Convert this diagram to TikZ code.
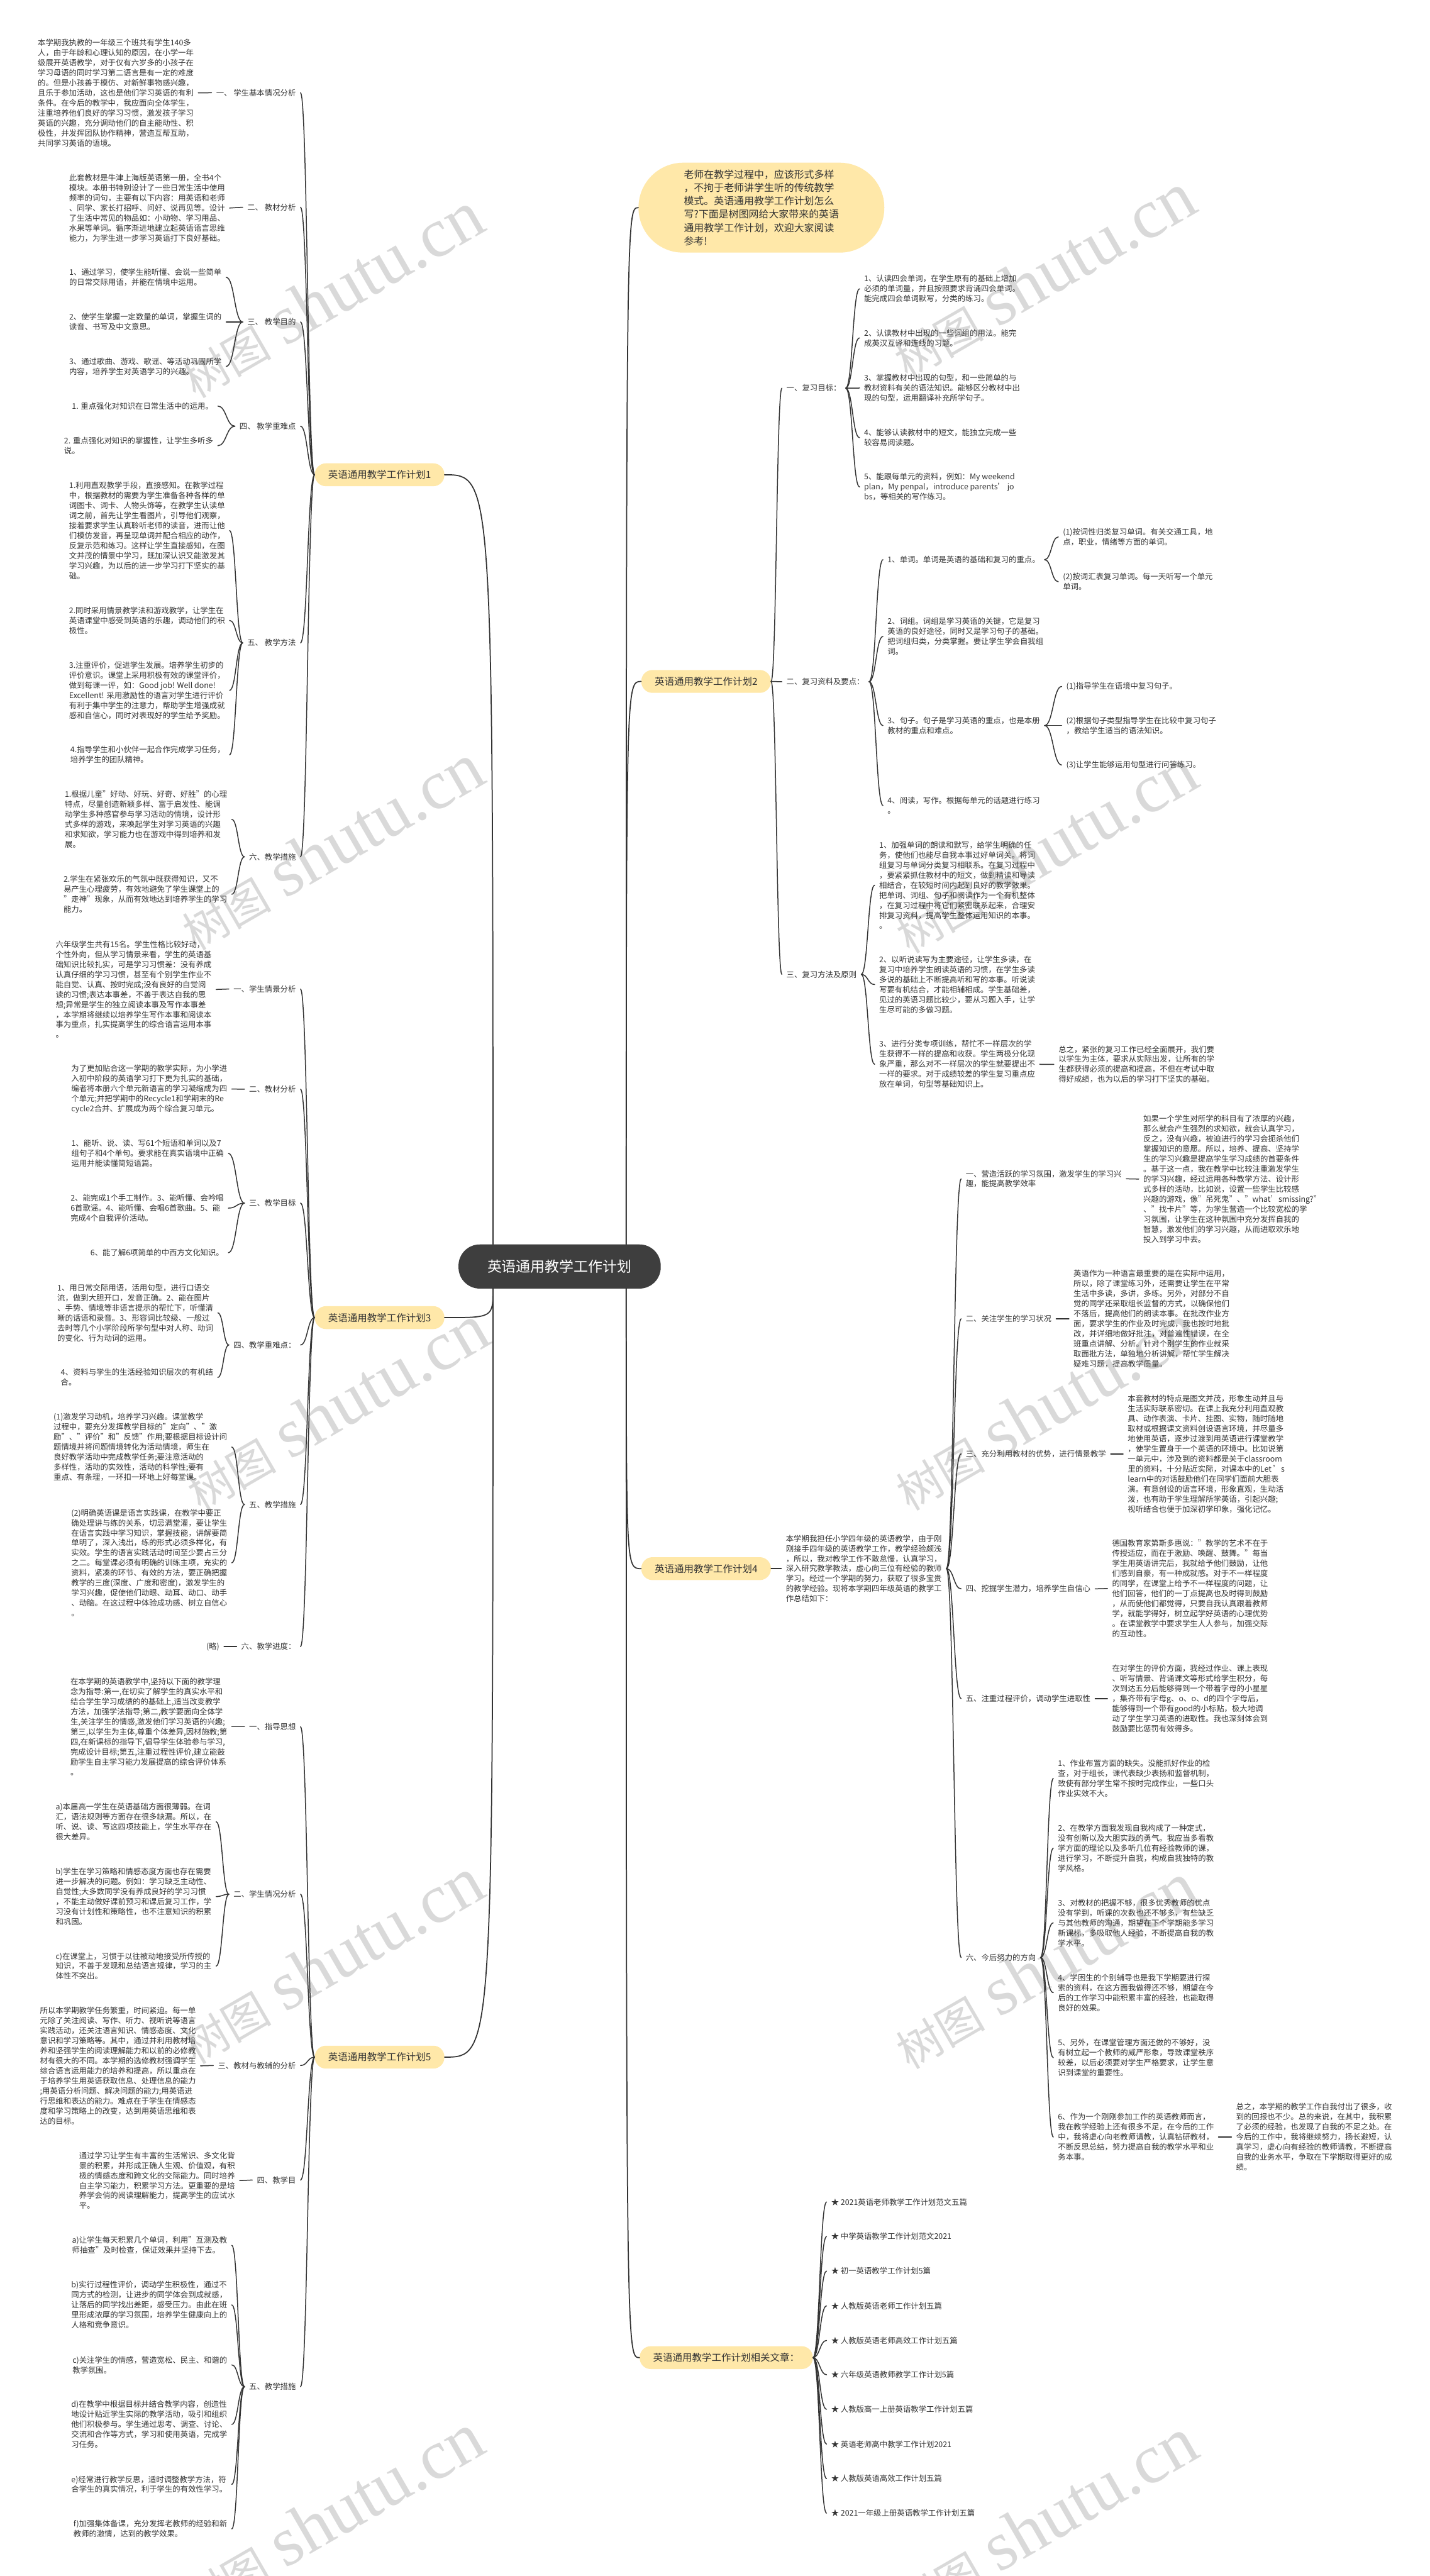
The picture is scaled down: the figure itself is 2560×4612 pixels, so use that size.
\documentclass[tikz,border=0pt]{standalone}
\usepackage{fontspec}
\setmainfont{Noto Sans CJK SC}
\newfontfamily\marklatin{Liberation Serif}
\usetikzlibrary{calc}

\definecolor{ink}{HTML}{333333}
\definecolor{topic}{HTML}{FFE8A9}
\definecolor{central}{HTML}{3E3E3E}
\definecolor{mark}{HTML}{D9D9D9}

\newcommand{\bodysize}{\fontsize{9.92pt}{12.76pt}\selectfont}
\newcommand{\marktext}{{\fontsize{57pt}{60pt}\selectfont 树图}\hspace{18pt}{\marklatin\fontsize{89pt}{90pt}\selectfont shutu.cn}}

\begin{document}
\begin{tikzpicture}[
  x=0.025cm, y=-0.025cm,
  line cap=round, line join=round,
  every node/.style={inner sep=0pt},
  txt/.style={font=\bodysize, text=ink, align=left, inner xsep=0.2cm, inner ysep=1pt},
  lt/.style={txt, anchor=east},
  rt/.style={txt, anchor=west},
  topicbox/.style={fill=topic, rounded corners=0.5cm, text=ink, font=\fontsize{12.4pt}{15pt}\selectfont, minimum width=5.8cm, minimum height=1.025cm},
  centralbox/.style={fill=central, rounded corners=0.95cm, text=white, font=\fontsize{18.4pt}{21pt}\selectfont, minimum width=9.05cm, minimum height=1.975cm},
  notebox/.style={fill=topic, rounded corners=2cm, text=ink, align=left, font=\fontsize{12.76pt}{17pt}\selectfont, minimum width=11cm, minimum height=4.025cm, anchor=north west},
  wmark/.style={text=mark, rotate=30, anchor=base west},
  link/.style={draw=ink, line width=1.2pt,
    to path={let \p1=(\tikztostart), \p2=(\tikztotarget) in
      .. controls ({(\x1+\x2)/2},\y1) and ({(\x1+\x2)/2},\y2) .. (\tikztotarget)}},
  trunk/.style={draw=ink, line width=1.4pt,
    to path={let \p1=(\tikztostart), \p2=(\tikztotarget) in
      .. controls (\x1,\y2) and (\x1,\y2) .. (\tikztotarget)}},
]
\useasboundingbox (0,0) rectangle (2560,4612);
\fill[white] (0,0) rectangle (2560,4612);

\node[wmark] (wm1) at (350,714) {\marktext};
\node[wmark] (wm2) at (350,1703) {\marktext};
\node[wmark] (wm3) at (359,2707) {\marktext};
\node[wmark] (wm4) at (350,3697) {\marktext};
\node[wmark] (wm5) at (350,4692) {\marktext};
\node[wmark] (wm6) at (1625,680) {\marktext};
\node[wmark] (wm7) at (1628,1709) {\marktext};
\node[wmark] (wm8) at (1628,2706) {\marktext};
\node[wmark] (wm9) at (1628,3706) {\marktext};
\node[wmark] (wm10) at (1628,4700) {\marktext};

\node[centralbox] (root) at (1002,2267.5) {英语通用教学工作计划};
\coordinate (rtl) at ([xshift=1.55cm]root.north west);
\coordinate (rbl) at ([xshift=1.55cm]root.south west);
\coordinate (rtr) at ([xshift=-1.55cm]root.north east);
\coordinate (rbr) at ([xshift=-1.55cm]root.south east);

\node[topicbox, anchor=east] (p1) at (796,850) {英语通用教学工作计划1};
\node[topicbox, anchor=east] (p3) at (796,2359) {英语通用教学工作计划3};
\node[topicbox, anchor=east] (p5) at (796,3683) {英语通用教学工作计划5};
\node[topicbox, anchor=west] (p2) at (1148,1220) {英语通用教学工作计划2};
\node[topicbox, anchor=west] (p4) at (1148,2808.4) {英语通用教学工作计划4};
\node[topicbox, anchor=west, minimum width=7.75cm] (rel) at (1145,4221) {英语通用教学工作计划相关文章：};
\node[notebox] (note) at (1143,291) {老师在教学过程中，应该形式多样\\，不拘于老师讲学生听的传统教学\\模式。英语通用教学工作计划怎么\\写?下面是树图网给大家带来的英语\\通用教学工作计划，欢迎大家阅读\\参考!};

\draw[trunk] (rtl) to (p1.east);
\draw[trunk] (rbl) to (p3.east);
\draw[trunk] (rbl) to (p5.east);
\draw[trunk] (rtr) to (note.west);
\draw[trunk] (rtr) to (p2.west);
\draw[trunk] (rbr) to (p4.west);
\draw[trunk] (rbr) to (rel.west);

\node[lt] (a1) at (538,166) {一、 学生基本情况分析};
\node[lt] (a2) at (538,371) {二、 教材分析};
\node[lt] (a3) at (538,576.5) {三、 教学目的};
\node[lt] (a4) at (538,763) {四、 教学重难点};
\node[lt] (a5) at (538,1151) {五、 教学方法};
\node[lt] (a6) at (538,1534) {六、教学措施};
\node[lt] (a1t) at (355,166.3) {本学期我执教的一年级三个班共有学生140多\\人，由于年龄和心理认知的原因，在小学一年\\级展开英语教学，对于仅有六岁多的小孩子在\\学习母语的同时学习第二语言是有一定的难度\\的。但是小孩善于模仿、对新鲜事物感兴趣，\\且乐于参加活动，这也是他们学习英语的有利\\条件。在今后的教学中，我应面向全体学生，\\注重培养他们良好的学习习惯，激发孩子学习\\英语的兴趣，充分调动他们的自主能动性、积\\极性，并发挥团队协作精神，营造互帮互助，\\共同学习英语的语境。};
\node[lt] (a2t) at (411,372.5) {此套教材是牛津上海版英语第一册，全书4个\\模块。本册书特别设计了一些日常生活中使用\\频率的词句，主要有以下内容：用英语和老师\\、同学、家长打招呼、问好、说再见等。设计\\了生活中常见的物品如：小动物、学习用品、\\水果等单词。循序渐进地建立起英语语言思维\\能力，为学生进一步学习英语打下良好基础。};
\node[lt] (a3a) at (405,496.5) {1、通过学习，使学生能听懂、会说一些简单\\的日常交际用语，并能在情境中运用。};
\node[lt] (a3b) at (405,576.5) {2、使学生掌握一定数量的单词，掌握生词的\\读音、书写及中文意思。};
\node[lt] (a3c) at (405,656) {3、通过歌曲、游戏、歌谣、等活动巩固所学\\内容，培养学生对英语学习的兴趣。};
\node[lt] (a4a) at (390,727) {1. 重点强化对知识在日常生活中的运用。};
\node[lt] (a4b) at (390,798) {2. 重点强化对知识的掌握性，让学生多听多\\说。};
\node[lt] (a5a) at (411,950) {1.利用直观教学手段，直接感知。在教学过程\\中，根据教材的需要为学生准备各种各样的单\\词图卡、词卡、人物头饰等，在教学生认读单\\词之前，首先让学生看图片，引导他们观察，\\接着要求学生认真聆听老师的读音，进而让他\\们模仿发音，再呈现单词并配合相应的动作，\\反复示范和练习。这样让学生直接感知，在图\\文并茂的情景中学习，既加深认识又能激发其\\学习兴趣，为以后的进一步学习打下坚实的基\\础。};
\node[lt] (a5b) at (411,1110.7) {2.同时采用情景教学法和游戏教学，让学生在\\英语课堂中感受到英语的乐趣，调动他们的积\\极性。};
\node[lt] (a5c) at (411,1236) {3.注重评价，促进学生发展。培养学生初步的\\评价意识。课堂上采用积极有效的课堂评价，\\做到每课一评，如：Good job! Well done!\\Excellent! 采用激励性的语言对学生进行评价\\有利于集中学生的注意力，帮助学生增强成就\\感和自信心，同时对表现好的学生给予奖励。};
\node[lt] (a5d) at (411,1351.3) {4.指导学生和小伙伴一起合作完成学习任务，\\培养学生的团队精神。};
\node[lt] (a6a) at (415,1467) {1.根据儿童"好动、好玩、好奇、好胜"的心理\\特点，尽量创造新颖多样、富于启发性、能调\\动学生多种感官参与学习活动的情境，设计形\\式多样的游戏，来唤起学生对学习英语的兴趣\\和求知欲，学习能力也在游戏中得到培养和发\\展。};
\node[lt] (a6b) at (415,1601) {2.学生在紧张欢乐的气氛中既获得知识，又不\\易产生心理疲劳，有效地避免了学生课堂上的\\"走神"现象，从而有效地达到培养学生的学习\\能力。};
\draw[link] (p1.west) to (a1.east);
\draw[link] (p1.west) to (a2.east);
\draw[link] (p1.west) to (a3.east);
\draw[link] (p1.west) to (a4.east);
\draw[link] (p1.west) to (a5.east);
\draw[link] (p1.west) to (a6.east);
\draw[link] (a1.west) to (a1t.east);
\draw[link] (a2.west) to (a2t.east);
\draw[link] (a3.west) to (a3a.east);
\draw[link] (a3.west) to (a3b.east);
\draw[link] (a3.west) to (a3c.east);
\draw[link] (a4.west) to (a4a.east);
\draw[link] (a4.west) to (a4b.east);
\draw[link] (a5.west) to (a5a.east);
\draw[link] (a5.west) to (a5b.east);
\draw[link] (a5.west) to (a5c.east);
\draw[link] (a5.west) to (a5d.east);
\draw[link] (a6.west) to (a6a.east);
\draw[link] (a6.west) to (a6b.east);

\node[lt] (b1) at (538,1770.7) {一、学生情景分析};
\node[lt] (b2) at (538,1950) {二、教材分析};
\node[lt] (b3) at (538,2154) {三、教学目标};
\node[lt] (b4) at (538,2408) {四、教学重难点：};
\node[lt] (b5) at (538,2693.6) {五、教学措施};
\node[lt] (b6) at (538,2948) {六、教学进度：};
\node[lt] (b1t) at (387,1771.5) {六年级学生共有15名。学生性格比较好动，\\个性外向，但从学习情景来看，学生的英语基\\础知识比较扎实，可是学习习惯差：没有养成\\认真仔细的学习习惯，甚至有个别学生作业不\\能自觉、认真、按时完成;没有良好的自觉阅\\读的习惯;表达本事差，不善于表达自我的思\\想;异常是学生的独立阅读本事及写作本事差\\，本学期将继续以培养学生写作本事和阅读本\\事为重点，扎实提高学生的综合语言运用本事\\。};
\node[lt] (b2t) at (415,1949.8) {为了更加贴合这一学期的教学实际，为小学进\\入初中阶段的英语学习打下更为扎实的基础，\\编者将本册六个单元新语言的学习凝缩成为四\\个单元;并把学期中的Recycle1和学期末的Re\\cycle2合并、扩展成为两个综合复习单元。};
\node[lt] (b3a) at (409,2065) {1、能听、说、读、写61个短语和单词以及7\\组句子和4个单句。要求能在真实语境中正确\\运用并能读懂简短语篇。};
\node[lt] (b3b) at (409,2163) {2、能完成1个手工制作。3、能听懂、会吟唱\\6首歌谣。4、能听懂、会唱6首歌曲。5、能\\完成4个自我评价活动。};
\node[lt] (b3c) at (409,2242.7) {6、能了解6项简单的中西方文化知识。};
\node[lt] (b4a) at (390,2350.5) {1、用日常交际用语，活用句型，进行口语交\\流，做到大胆开口，发音正确。2、能在图片\\、手势、情境等非语言提示的帮忙下，听懂清\\晰的话语和录音。3、形容词比较级、一般过\\去时等几个小学阶段所学句型中对人称、动词\\的变化、行为动词的运用。};
\node[lt] (b4b) at (390,2466) {4、资料与学生的生活经验知识层次的有机结\\合。};
\node[lt] (b5a) at (415,2590.7) {(1)激发学习动机，培养学习兴趣。课堂教学\\过程中，要充分发挥教学目标的"定向"、"激\\励"、"评价"和"反馈"作用;要根据目标设计问\\题情境并将问题情境转化为活动情境，师生在\\良好教学活动中完成教学任务;要注意活动的\\多样性，活动的实效性，活动的科学性;要有\\重点、有条理，一环扣一环地上好每堂课。};
\node[lt] (b5b) at (415,2798) {(2)明确英语课是语言实践课，在教学中要正\\确处理讲与练的关系，切忌满堂灌，要让学生\\在语言实践中学习知识，掌握技能，讲解要简\\单明了，深入浅出，练的形式必须多样化，有\\实效。学生的语言实践活动时间至少要占三分\\之二。每堂课必须有明确的训练主项，充实的\\资料，紧凑的环节、有效的方法，要正确把握\\教学的三度(深度、广度和密度)，激发学生的\\学习兴趣，促使他们动眼、动耳、动口、动手\\、动脑。在这过程中体验成功感、树立自信心\\。};
\node[lt] (b6t) at (401,2948) {(略)};
\draw[link] (p3.west) to (b1.east);
\draw[link] (p3.west) to (b2.east);
\draw[link] (p3.west) to (b3.east);
\draw[link] (p3.west) to (b4.east);
\draw[link] (p3.west) to (b5.east);
\draw[link] (p3.west) to (b6.east);
\draw[link] (b1.west) to (b1t.east);
\draw[link] (b2.west) to (b2t.east);
\draw[link] (b3.west) to (b3a.east);
\draw[link] (b3.west) to (b3b.east);
\draw[link] (b3.west) to (b3c.east);
\draw[link] (b4.west) to (b4a.east);
\draw[link] (b4.west) to (b4b.east);
\draw[link] (b5.west) to (b5a.east);
\draw[link] (b5.west) to (b5b.east);
\draw[link] (b6.west) to (b6t.east);

\node[lt] (c1) at (538,3091.5) {一、指导思想};
\node[lt] (c2) at (538,3391.4) {二、学生情况分析};
\node[lt] (c3) at (538,3698) {三、教材与教辅的分析};
\node[lt] (c4) at (538,3903) {四、教学目};
\node[lt] (c5) at (538,4273) {五、教学措施};
\node[lt] (c1t) at (415,3091.5) {在本学期的英语教学中,坚持以下面的教学理\\念为指导:第一,在切实了解学生的真实水平和\\结合学生学习成绩的的基础上,适当改变教学\\方法，加强学法指导;第二,教学要面向全体学\\生,关注学生的情感,激发他们学习英语的兴趣;\\第三,以学生为主体,尊重个体差异,因材施教;第\\四,在新课标的指导下,倡导学生体验参与学习,\\完成设计目标;第五,注重过程性评价,建立能鼓\\励学生自主学习能力发展提高的综合评价体系\\。};
\node[lt] (c2a) at (387,3261.6) {a)本届高一学生在英语基础方面很薄弱。在词\\汇，语法规则等方面存在很多缺漏。所以，在\\听、说、读、写这四项技能上，学生水平存在\\很大差异。};
\node[lt] (c2b) at (387,3395.5) {b)学生在学习策略和情感态度方面也存在需要\\进一步解决的问题。例如：学习缺乏主动性、\\自觉性;大多数同学没有养成良好的学习习惯\\，不能主动做好课前预习和课后复习工作，学\\习没有计划性和策略性，也不注意知识的积累\\和巩固。};
\node[lt] (c2c) at (387,3520) {c)在课堂上，习惯于以往被动地接受所传授的\\知识，不善于发现和总结语言规律，学习的主\\体性不突出。};
\node[lt] (c3t) at (359,3698.6) {所以本学期教学任务繁重，时间紧迫。每一单\\元除了关注阅读、写作、听力、视听说等语言\\实践活动，还关注语言知识、情感态度、文化\\意识和学习策略等。其中，通过并利用教材培\\养和坚强学生的阅读理解能力和以前的必修教\\材有很大的不同。本学期的选修教材强调学生\\综合语言运用能力的培养和提高，所以重点在\\于培养学生用英语获取信息、处理信息的能力\\;用英语分析问题、解决问题的能力;用英语进\\行思维和表达的能力。难点在于学生在情感态\\度和学习策略上的改变，达到用英语思维和表\\达的目标。};
\node[lt] (c4t) at (429,3904) {通过学习让学生有丰富的生活常识、多文化背\\景的积累，并形成正确人生观、价值观，有积\\极的情感态度和跨文化的交际能力。同时培养\\自主学习能力，积累学习方法。更重要的是培\\养学会俏的阅读理解能力，提高学生的应试水\\平。};
\node[lt] (c5a) at (415,4020) {a)让学生每天积累几个单词，利用"互测及教\\师抽查"及时检查，保证效果并坚持下去。};
\node[lt] (c5b) at (415,4126.6) {b)实行过程性评价，调动学生积极性，通过不\\同方式的检测，让进步的同学体会到成就感，\\让落后的同学找出差距，感受压力。由此在班\\里形成浓厚的学习氛围，培养学生健康向上的\\人格和竞争意识。};
\node[lt] (c5c) at (415,4234) {c)关注学生的情感，营造宽松、民主、和谐的\\教学氛围。};
\node[lt] (c5d) at (415,4340.5) {d)在教学中根据目标并结合教学内容，创造性\\地设计贴近学生实际的教学活动，吸引和组织\\他们积极参与。学生通过思考、调查、讨论、\\交流和合作等方式，学习和使用英语，完成学\\习任务。};
\node[lt] (c5e) at (415,4448) {e)经常进行教学反思，适时调整教学方法，符\\合学生的真实情况，利于学生的有效性学习。};
\node[lt] (c5f) at (415,4527.6) {f)加强集体备课，充分发挥老教师的经验和新\\教师的激情，达到的教学效果。};
\draw[link] (p5.west) to (c1.east);
\draw[link] (p5.west) to (c2.east);
\draw[link] (p5.west) to (c3.east);
\draw[link] (p5.west) to (c4.east);
\draw[link] (p5.west) to (c5.east);
\draw[link] (c1.west) to (c1t.east);
\draw[link] (c2.west) to (c2a.east);
\draw[link] (c2.west) to (c2b.east);
\draw[link] (c2.west) to (c2c.east);
\draw[link] (c3.west) to (c3t.east);
\draw[link] (c4.west) to (c4t.east);
\draw[link] (c5.west) to (c5a.east);
\draw[link] (c5.west) to (c5b.east);
\draw[link] (c5.west) to (c5c.east);
\draw[link] (c5.west) to (c5d.east);
\draw[link] (c5.west) to (c5e.east);
\draw[link] (c5.west) to (c5f.east);

\node[rt] (d1) at (1400,695) {一、复习目标：};
\node[rt] (d2) at (1400,1220.5) {二、复习资料及要点：};
\node[rt] (d3) at (1400,1744.5) {三、复习方法及原则};
\node[rt] (d1a) at (1539,517) {1、认读四会单词，在学生原有的基础上增加\\必须的单词量，并且按照要求背诵四会单词。\\能完成四会单词默写，分类的练习。};
\node[rt] (d1b) at (1539,605) {2、认读教材中出现的一些词组的用法。能完\\成英汉互译和连线的习题。};
\node[rt] (d1c) at (1539,694.7) {3、掌握教材中出现的句型，和一些简单的与\\教材资料有关的语法知识。能够区分教材中出\\现的句型，运用翻译补充所学句子。};
\node[rt] (d1d) at (1539,783.5) {4、能够认读教材中的短文，能独立完成一些\\较容易阅读题。};
\node[rt] (d1e) at (1539,871.8) {5、能跟每单元的资料，例如：My weekend\\plan，My penpal，introduce parents’ jo\\bs，等相关的写作练习。};
\node[rt] (e1) at (1581,1002) {1、单词。单词是英语的基础和复习的重点。};
\node[rt] (e1a) at (1895,961.3) {(1)按词性归类复习单词。有关交通工具，地\\点，职业，情绪等方面的单词。};
\node[rt] (e1b) at (1895,1041.5) {(2)按词汇表复习单词。每一天听写一个单元\\单词。};
\node[rt] (e2) at (1581,1139.5) {2、词组。词组是学习英语的关键，它是复习\\英语的良好途径，同时又是学习句子的基础。\\把词组归类，分类掌握。要让学生学会自我组\\词。};
\node[rt] (e3) at (1581,1299) {3、句子。句子是学习英语的重点，也是本册\\教材的重点和难点。};
\node[rt] (e3a) at (1901,1229) {(1)指导学生在语境中复习句子。};
\node[rt] (e3b) at (1901,1299) {(2)根据句子类型指导学生在比较中复习句子\\，教给学生适当的语法知识。};
\node[rt] (e3c) at (1901,1369.6) {(3)让学生能够运用句型进行问答练习。};
\node[rt] (e4) at (1581,1442) {4、阅读，写作。根据每单元的话题进行练习\\。};
\node[rt] (f1) at (1566,1584.8) {1、加强单词的朗读和默写，给学生明确的任\\务，使他们也能尽自我本事过好单词关。将词\\组复习与单词分类复习相联系。在复习过程中\\，要紧紧抓住教材中的短文，做到精读和导读\\相结合，在较短时间内起到良好的教学效果。\\把单词、词组、句子和阅读作为一个有机整体\\，在复习过程中将它们紧密联系起来，合理安\\排复习资料，提高学生整体运用知识的本事。\\。};
\node[rt] (f2) at (1566,1762.7) {2、以听说读写为主要途径，让学生多读，在\\复习中培养学生朗读英语的习惯，在学生多读\\多说的基础上不断提高听和写的本事。听说读\\写要有机结合，才能相辅相成。学生基础差，\\见过的英语习题比较少，要从习题入手，让学\\生尽可能的多做习题。};
\node[rt] (f3) at (1566,1905.4) {3、进行分类专项训练，帮忙不一样层次的学\\生获得不一样的提高和收获。学生两极分化现\\象严重，那么对不一样层次的学生就要提出不\\一样的要求。对于成绩较差的学生复习重点应\\放在单词，句型等基础知识上。};
\node[rt] (fs) at (1887,1905.5) {总之，紧张的复习工作已经全面展开，我们要\\以学生为主体，要求从实际出发，让所有的学\\生都获得必须的提高和提高，不但在考试中取\\得好成绩，也为以后的学习打下坚实的基础。};
\draw[link] (p2.east) to (d1.west);
\draw[link] (p2.east) to (d2.west);
\draw[link] (p2.east) to (d3.west);
\draw[link] (d1.east) to (d1a.west);
\draw[link] (d1.east) to (d1b.west);
\draw[link] (d1.east) to (d1c.west);
\draw[link] (d1.east) to (d1d.west);
\draw[link] (d1.east) to (d1e.west);
\draw[link] (d2.east) to (e1.west);
\draw[link] (d2.east) to (e2.west);
\draw[link] (d2.east) to (e3.west);
\draw[link] (d2.east) to (e4.west);
\draw[link] (e1.east) to (e1a.west);
\draw[link] (e1.east) to (e1b.west);
\draw[link] (e3.east) to (e3a.west);
\draw[link] (e3.east) to (e3b.west);
\draw[link] (e3.east) to (e3c.west);
\draw[link] (d3.east) to (f1.west);
\draw[link] (d3.east) to (f2.west);
\draw[link] (d3.east) to (f3.west);
\draw[link] (f3.east) to (fs.west);

\node[rt] (g) at (1399,2808.4) {本学期我担任小学四年级的英语教学，由于刚\\刚接手四年级的英语教学工作，教学经验颇浅\\，所以，我对教学工作不敢怠慢，认真学习，\\深入研究教学教法，虚心向三位有经验的教师\\学习。经过一个学期的努力，获取了很多宝贵\\的教学经验。现将本学期四年级英语的教学工\\作总结如下：};
\node[rt] (h1) at (1721,2110.5) {一、营造活跃的学习氛围，激发学生的学习兴\\趣，能提高教学效率};
\node[rt] (h2) at (1721,2361) {二、关注学生的学习状况};
\node[rt] (h3) at (1721,2603) {三、充分利用教材的优势，进行情景教学};
\node[rt] (h4) at (1721,2844.6) {四、挖掘学生潜力，培养学生自信心};
\node[rt] (h5) at (1721,3041) {五、注重过程评价，调动学生进取性};
\node[rt] (h6) at (1721,3504.7) {六、今后努力的方向};
\node[rt] (h1t) at (2039,2111) {如果一个学生对所学的科目有了浓厚的兴趣，\\那么就会产生强烈的求知欲，就会认真学习，\\反之，没有兴趣，被迫进行的学习会扼杀他们\\掌握知识的意愿。所以，培养、提高、坚持学\\生的学习兴趣是提高学生学习成绩的首要条件\\。基于这一点，我在教学中比较注重激发学生\\的学习兴趣，经过运用各种教学方法、设计形\\式多样的活动，比如说，设置一些学生比较感\\兴趣的游戏，像"吊死鬼"、"what'smissing?"\\、"找卡片"等，为学生营造一个比较宽松的学\\习氛围，让学生在这种氛围中充分发挥自我的\\智慧，激发他们的学习兴趣，从而进取欢乐地\\投入到学习中去。};
\node[rt] (h2t) at (1914,2361) {英语作为一种语言最重要的是在实际中运用，\\所以，除了课堂练习外，还需要让学生在平常\\生活中多读，多讲，多练。另外，对部分不自\\觉的同学还采取组长监督的方式，以确保他们\\不落后，提高他们的朗读本事。在批改作业方\\面，要求学生的作业及时完成，我也按时地批\\改，并详细地做好批注，对普遍性错误，在全\\班重点讲解、分析。针对个别学生的作业就采\\取面批方法，单独地分析讲解，帮忙学生解决\\疑难习题，提高教学质量。};
\node[rt] (h3t) at (2011,2603) {本套教材的特点是图文并茂，形象生动并且与\\生活实际联系密切。在课上我充分利用直观教\\具、动作表演、卡片、挂图、实物，随时随地\\取材或根据课文资料创设语言环境，并尽量多\\地使用英语，逐步过渡到用英语进行课堂教学\\，使学生置身于一个英语的环境中。比如说第\\一单元中，涉及到的资料都是关于classroom\\里的资料，十分贴近实际，对课本中的Let ’s\\learn中的对话鼓励他们在同学们面前大胆表\\演。有意创设的语言环境，形象直观，生动活\\泼，也有助于学生理解所学英语，引起兴趣;\\视听结合也便于加深初学印象，强化记忆。};
\node[rt] (h4t) at (1983,2844) {德国教育家第斯多惠说："教学的艺术不在于\\传授适应，而在于激励、唤醒、鼓舞。"每当\\学生用英语讲完后，我就给予他们鼓励，让他\\们感到自豪，有一种成就感。对于不一样程度\\的同学，在课堂上给予不一样程度的问题，让\\他们回答，他们的一丁点提高也及时得到鼓励\\，从而使他们都觉得，只要自我认真跟着教师\\学，就能学得好，树立起学好英语的心理优势\\。在课堂教学中要求学生人人参与，加强交际\\的互动性。};
\node[rt] (h5t) at (1983,3041) {在对学生的评价方面，我经过作业、课上表现\\、听写情景、背诵课文等形式给学生积分，每\\次到达五分后能够得到一个带着字母的小星星\\，集齐带有字母g、o、o、d的四个字母后，\\能够得到一个带有good的小标贴，极大地调\\动了学生学习英语的进取性。我也深刻体会到\\鼓励要比惩罚有效得多。};
\node[rt] (k1) at (1886,3184) {1、作业布置方面的缺失。没能抓好作业的检\\查，对于组长，课代表缺少表扬和监督机制，\\致使有部分学生常不按时完成作业，一些口头\\作业实效不大。};
\node[rt] (k2) at (1886,3309) {2、在教学方面我发现自我构成了一种定式，\\没有创新以及大胆实践的勇气。我应当多看教\\学方面的理论以及多听几位有经验教师的课，\\进行学习，不断提升自我，构成自我独特的教\\学风格。};
\node[rt] (k3) at (1886,3442.6) {3、对教材的把握不够，很多优秀教师的优点\\没有学到，听课的次数也还不够多，有些缺乏\\与其他教师的沟通，期望在下个学期能多学习\\新课标，多吸取他人经验，不断提高自我的教\\学水平。};
\node[rt] (k4) at (1886,3567.5) {4、学困生的个别辅导也是我下学期要进行探\\索的资料，在这方面我做得还不够，期望在今\\后的工作学习中能积累丰富的经验，也能取得\\良好的效果。};
\node[rt] (k5) at (1886,3684) {5、另外，在课堂管理方面还做的不够好，没\\有树立起一个教师的威严形象，导致课堂秩序\\较差，以后必须要对学生严格要求，让学生意\\识到课堂的重要性。};
\node[rt] (k6) at (1886,3826) {6、作为一个刚刚参加工作的英语教师而言，\\我在教学经验上还有很多不足，在今后的工作\\中，我将虚心向老教师请教，认真钻研教材，\\不断反思总结，努力提高自我的教学水平和业\\务本事。};
\node[rt] (ks) at (2205,3826) {总之，本学期的教学工作自我付出了很多，收\\到的回报也不少。总的来说，在其中，我积累\\了必须的经验，也发现了自我的不足之处。在\\今后的工作中，我将继续努力，扬长避短，认\\真学习，虚心向有经验的教师请教，不断提高\\自我的业务水平，争取在下学期取得更好的成\\绩。};
\draw[link] (p4.east) to (g.west);
\draw[link] (g.east) to (h1.west);
\draw[link] (g.east) to (h2.west);
\draw[link] (g.east) to (h3.west);
\draw[link] (g.east) to (h4.west);
\draw[link] (g.east) to (h5.west);
\draw[link] (g.east) to (h6.west);
\draw[link] (h1.east) to (h1t.west);
\draw[link] (h2.east) to (h2t.west);
\draw[link] (h3.east) to (h3t.west);
\draw[link] (h4.east) to (h4t.west);
\draw[link] (h5.east) to (h5t.west);
\draw[link] (h6.east) to (k1.west);
\draw[link] (h6.east) to (k2.west);
\draw[link] (h6.east) to (k3.west);
\draw[link] (h6.east) to (k4.west);
\draw[link] (h6.east) to (k5.west);
\draw[link] (h6.east) to (k6.west);
\draw[link] (k6.east) to (ks.west);

\node[rt] (r1) at (1480,3942.3) {★ 2021英语老师教学工作计划范文五篇};
\node[rt] (r2) at (1480,4004.2) {★ 中学英语教学工作计划范文2021};
\node[rt] (r3) at (1480,4066) {★ 初一英语教学工作计划5篇};
\node[rt] (r4) at (1480,4128.3) {★ 人教版英语老师工作计划五篇};
\node[rt] (r5) at (1480,4190.2) {★ 人教版英语老师高效工作计划五篇};
\node[rt] (r6) at (1480,4251.6) {★ 六年级英语教师教学工作计划5篇};
\node[rt] (r7) at (1480,4313.5) {★ 人教版高一上册英语教学工作计划五篇};
\node[rt] (r8) at (1480,4375.8) {★ 英语老师高中教学工作计划2021};
\node[rt] (r9) at (1480,4437.6) {★ 人教版英语高效工作计划五篇};
\node[rt] (r10) at (1480,4499.5) {★ 2021一年级上册英语教学工作计划五篇};
\draw[link] (rel.east) to (r1.west);
\draw[link] (rel.east) to (r2.west);
\draw[link] (rel.east) to (r3.west);
\draw[link] (rel.east) to (r4.west);
\draw[link] (rel.east) to (r5.west);
\draw[link] (rel.east) to (r6.west);
\draw[link] (rel.east) to (r7.west);
\draw[link] (rel.east) to (r8.west);
\draw[link] (rel.east) to (r9.west);
\draw[link] (rel.east) to (r10.west);
\end{tikzpicture}
\end{document}
